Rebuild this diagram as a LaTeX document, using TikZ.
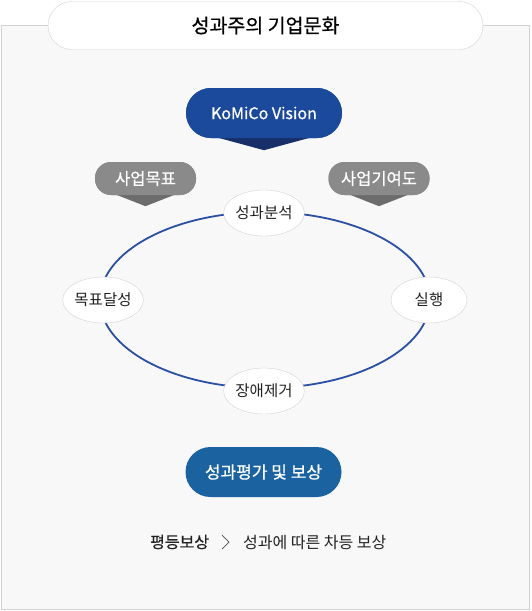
\documentclass[tikz,border=0pt]{standalone}
\usepackage{fontspec}
\setmainfont{Noto Sans CJK KR}
\newfontfamily\mediumfont[FakeBold=0.7]{Noto Sans CJK KR}
\usetikzlibrary{calc,shapes.geometric}

\definecolor{panelbg}{HTML}{F8F8F8}
\definecolor{panelline}{HTML}{D2D2D2}
\definecolor{visionblue}{HTML}{1B4A9C}
\definecolor{visiondark}{HTML}{162F68}
\definecolor{tagdark}{HTML}{6C6C6C}
\definecolor{taggray}{HTML}{8A8A8A}
\definecolor{cycleblue}{HTML}{2A4FA3}
\definecolor{rewardblue}{HTML}{1A63A0}
\definecolor{textdark}{HTML}{222222}

\begin{document}
\begin{tikzpicture}[
    x=1pt, y=-1pt,
    title/.style={rectangle, rounded corners=24pt, draw=panelline, fill=white,
                  minimum width=435pt, minimum height=48pt, inner sep=0pt,
                  font=\mediumfont\fontsize{19.5}{22}\selectfont, text=black},
    pill/.style={rectangle, rounded corners=25pt, minimum width=156pt,
                 minimum height=50pt, inner sep=0pt, text=white,
                 font=\mediumfont\fontsize{16}{19}\selectfont},
    tag/.style={rectangle, rounded corners=16pt, fill=taggray, minimum width=101pt,
                minimum height=33pt, inner sep=0pt, text=white,
                font=\mediumfont\fontsize{16.5}{19}\selectfont},
    step node/.style={ellipse, draw=panelline, fill=white, minimum width=76pt,
                      minimum height=46pt, inner sep=0pt, text=textdark,
                      font=\fontsize{15.5}{18}\selectfont},
    cycle/.style={draw=cycleblue, line width=1.8pt},
    note/.style={text=textdark, font=\fontsize{16}{19}\selectfont, inner sep=0pt},
]
\useasboundingbox (0,0) rectangle (531,611);

% Panel and title
\draw[panelline, fill=panelbg] (1,25) rectangle (529,609);
\node[title] (head) at (265.5,25.5) {성과주의 기업문화};

% Vision bubble with its tail
\node[pill, fill=visionblue] (vision) at (264,113) {KoMiCo Vision};
\fill[visiondark] ($(vision.south west)+(12,-6)$) -- ($(vision.south east)+(-12,-6)$)
    -- ($(vision.south)+(0,12)$) -- cycle;
\node[pill, fill=visionblue] at (vision) {KoMiCo Vision};

% Grey tags
\node[tag] (goal) at (145.5,178.5) {사업목표};
\fill[tagdark] ($(goal.south west)+(10,-5)$) -- ($(goal.south east)+(-10,-5)$)
    -- ($(goal.south)+(0,11)$) -- cycle;
\node[tag] at (goal) {사업목표};
\node[tag] (contrib) at (379,178.5) {사업기여도};
\fill[tagdark] ($(contrib.south west)+(10,-5)$) -- ($(contrib.south east)+(-10,-5)$)
    -- ($(contrib.south)+(0,11)$) -- cycle;
\node[tag] at (contrib) {사업기여도};

% Cycle
\draw[cycle] (265,300) ellipse [x radius=165pt, y radius=88pt];
\node[step node] (analysis) at (264,213) {성과분석};
\node[step node] (action) at (429,300) {실행};
\node[step node] (removal) at (264,391) {장애제거};
\node[step node] (achieve) at (103,300) {목표달성};

% Reward
\node[pill, fill=rewardblue, font=\mediumfont\fontsize{17}{20}\selectfont] (reward) at (263.5,472) {성과평가 및 보상};

% Bottom line
\node[note, font=\mediumfont\fontsize{16}{19}\selectfont, anchor=west] (equal) at (150,542) {평등보상};
\coordinate (chev) at (225,542);
\draw[textdark!80, line width=0.7pt] ($(chev)+(-3,-7)$) -- ($(chev)+(4,0)$) -- ($(chev)+(-3,7)$);
\node[note, anchor=west] (diff) at (243,542) {성과에 따른 차등 보상};
\end{tikzpicture}
\end{document}
